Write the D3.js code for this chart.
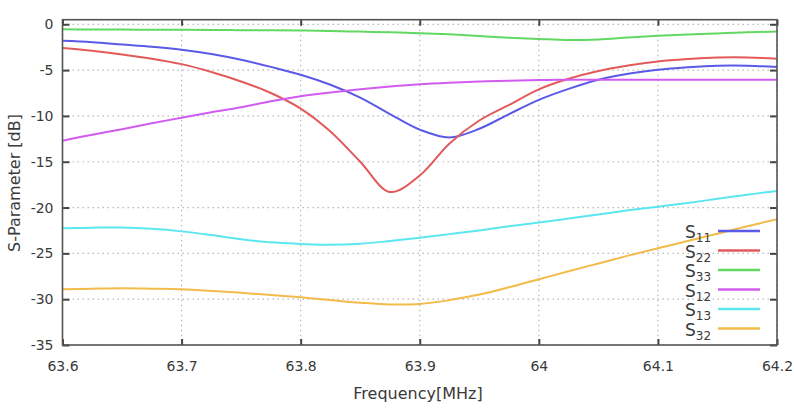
<!DOCTYPE html>
<html>
<head>
<meta charset="utf-8">
<script src="https://cdn.jsdelivr.net/npm/d3@7"></script>
<style>
  html, body { margin: 0; padding: 0; background: #fff; }
  svg { display: block; }
  text { font-family: "DejaVu Sans", Verdana, sans-serif; fill: #3a3a3a; }
</style>
</head>
<body>
<svg id="chart" width="794" height="408"></svg>
<script>
// ---- data ----
const freq = [63.6, 63.625, 63.65, 63.675, 63.7, 63.725, 63.75, 63.775, 63.8, 63.825,
              63.85, 63.875, 63.9, 63.925, 63.95, 63.975, 64.0, 64.025, 64.05, 64.075,
              64.1, 64.125, 64.15, 64.175, 64.2];

const s11 = [-1.8, -1.95, -2.2, -2.45, -2.78, -3.25, -3.88, -4.65, -5.5, -6.6,
             -8.0, -9.8, -11.5, -12.35, -11.4, -9.8, -8.25, -7.05, -6.05, -5.4,
             -4.97, -4.7, -4.52, -4.52, -4.67];
const s22 = [-2.6, -2.9, -3.3, -3.75, -4.35, -5.2, -6.24, -7.5, -9.2, -11.7,
             -15.0, -18.3, -16.5, -13.0, -10.5, -8.8, -7.1, -5.95, -5.1, -4.5,
             -4.06, -3.8, -3.63, -3.62, -3.75];
const s33 = [-0.55, -0.57, -0.58, -0.59, -0.6, -0.62, -0.64, -0.66, -0.68, -0.73,
             -0.8, -0.88, -0.97, -1.1, -1.28, -1.46, -1.6, -1.72, -1.65, -1.45,
             -1.26, -1.12, -1.0, -0.88, -0.78];
const s12 = [-12.7, -12.05, -11.45, -10.8, -10.2, -9.6, -9.05, -8.4, -7.85, -7.45,
             -7.1, -6.8, -6.55, -6.38, -6.25, -6.15, -6.08, -6.05, -6.05, -6.05,
             -6.05, -6.05, -6.05, -6.05, -6.05];
const s13 = [-22.26, -22.2, -22.18, -22.32, -22.6, -23.0, -23.45, -23.8, -23.97, -24.07,
             -23.95, -23.65, -23.3, -22.9, -22.5, -22.05, -21.64, -21.2, -20.75, -20.3,
             -19.9, -19.5, -19.05, -18.6, -18.18];
const s32 = [-28.92, -28.85, -28.8, -28.85, -28.92, -29.1, -29.3, -29.55, -29.8, -30.1,
             -30.38, -30.58, -30.52, -30.1, -29.5, -28.7, -27.83, -26.95, -26.1, -25.25,
             -24.44, -23.65, -22.85, -22.05, -21.27];

const seriesNames = ["11", "22", "33", "12", "13", "32"];
const seriesColors = ["#5a5ae6", "#e35a5a", "#62d862", "#d25cf0", "#5ce6f0", "#f2bb4a"];
const seriesValues = [s11, s22, s33, s12, s13, s32];

const xTicks = [63.6, 63.7, 63.8, 63.9, 64.0, 64.1, 64.2];
const xTickLabels = ["63.6", "63.7", "63.8", "63.9", "64", "64.1", "64.2"];
const yTicks = [0, -5, -10, -15, -20, -25, -30, -35];
const yTickLabels = ["0", "-5", "-10", "-15", "-20", "-25", "-30", "-35"];

const xTitle = "Frequency[MHz]";
const yTitle = "S-Parameter [dB]";

// ---- layout ----
const L = 62.5, R = 777, T = 19.7, B = 345;
const svg = d3.select("#chart");
const x = d3.scaleLinear().domain([63.6, 64.2]).range([L, R]);
const y = d3.scaleLinear().domain([-35, 0.5]).range([B, T]);

// grid
const grid = svg.append("g").attr("stroke", "#b8b8b8").attr("stroke-width", 1.2)
  .attr("stroke-dasharray", "1.5,3.5");
grid.selectAll("line.gx").data(xTicks).join("line")
  .attr("x1", d => x(d)).attr("x2", d => x(d)).attr("y1", T).attr("y2", B);
grid.selectAll("line.gy").data(yTicks).join("line")
  .attr("y1", d => y(d)).attr("y2", d => y(d)).attr("x1", L).attr("x2", R);

// series lines
svg.append("clipPath").attr("id", "clip").append("rect")
  .attr("x", L).attr("y", T).attr("width", R - L).attr("height", B - T);
const line = d3.line().curve(d3.curveCatmullRom.alpha(0.5));
const plot = svg.append("g").attr("clip-path", "url(#clip)");
seriesValues.forEach((vals, i) => {
  plot.append("path")
    .attr("d", line(freq.map((f, j) => [x(f), y(vals[j])])))
    .attr("fill", "none")
    .attr("stroke", seriesColors[i])
    .attr("stroke-width", 2)
    .attr("stroke-linejoin", "round");
});

// axes
const fontSize = 14;
const xAxis = d3.axisBottom(x).tickValues(xTicks).tickSizeInner(-6).tickSizeOuter(0)
  .tickPadding(16).tickFormat((d, i) => xTickLabels[i]);
const xAxisTop = d3.axisTop(x).tickValues(xTicks).tickSizeInner(-6).tickSizeOuter(0)
  .tickFormat("");
const yAxis = d3.axisLeft(y).tickValues(yTicks).tickSizeInner(-7).tickSizeOuter(0)
  .tickPadding(9).tickFormat((d, i) => yTickLabels[i]);
const yAxisRight = d3.axisRight(y).tickValues(yTicks).tickSizeInner(-7).tickSizeOuter(0)
  .tickFormat("");

function style(g) {
  g.select(".domain").remove();
  g.selectAll(".tick line").attr("stroke", "#444").attr("stroke-width", 2);
  g.selectAll(".tick text").attr("font-size", fontSize)
    .attr("font-family", "DejaVu Sans, Verdana, sans-serif").attr("fill", "#3a3a3a");
}
svg.append("g").attr("transform", `translate(0,${B})`).call(xAxis).call(style);
svg.append("g").attr("transform", `translate(0,${T})`).call(xAxisTop).call(style);
svg.append("g").attr("transform", `translate(${L},0)`).call(yAxis).call(style);
svg.append("g").attr("transform", `translate(${R},0)`).call(yAxisRight).call(style);

// frame
svg.append("rect").attr("x", L).attr("y", T).attr("width", R - L).attr("height", B - T)
  .attr("fill", "none").attr("stroke", "#555").attr("stroke-width", 1.6);

// titles
svg.append("text").attr("x", 418).attr("y", 399).attr("text-anchor", "middle")
  .attr("font-size", 16).text(xTitle);
svg.append("text").attr("transform", "translate(20,183) rotate(-90)")
  .attr("text-anchor", "middle").attr("font-size", 16).text(yTitle);

// legend
const lg = svg.append("g");
seriesNames.forEach((n, i) => {
  const cy = 231 + i * 19.5;
  const t = lg.append("text").attr("x", 685).attr("y", cy + 7).attr("font-size", 17);
  t.append("tspan").text("S");
  t.append("tspan").attr("font-size", 12).attr("dy", 4).text(n);
  lg.append("line").attr("x1", 718).attr("x2", 760).attr("y1", cy).attr("y2", cy)
    .attr("stroke", seriesColors[i]).attr("stroke-width", 2.5);
});
</script>
</body>
</html>
